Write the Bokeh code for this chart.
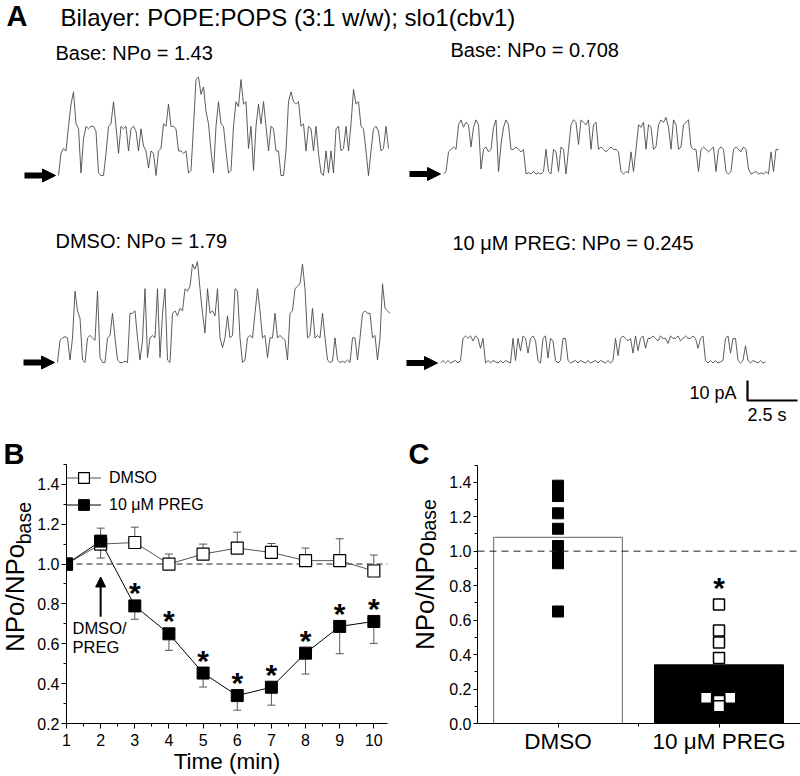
from math import pi
import numpy as np
from bokeh.plotting import figure
from bokeh.layouts import column, row
from bokeh.models import (Range1d, Label, Arrow, NormalHead, TeeHead, Whisker,
                          ColumnDataSource, FixedTicker, Span, Legend, LegendItem,
                          NumeralTickFormatter)
from bokeh.embed import file_html
from bokeh.resources import INLINE
from bokeh.core.properties import value

FONT = "Liberation Sans"

# ---------------- data: panel A (single-channel records, open-channel level per sample) ----------------
unit_current_pA = 12.3
sample_dt_s = 0.125
scale_bar_pA = 10
scale_bar_s = 2.5
figure_title = "Bilayer: POPE:POPS (3:1 w/w); slo1(cbv1)"
trace_titles = ["Base: NPo = 1.43", "Base: NPo = 0.708",
                "DMSO: NPo = 1.79", "10 \u03bcM PREG: NPo = 0.245"]

base1_levels = [
    0, 0.9, 1.1, 1.0, 2.0, 2.9, 3.4, 2.1, 1.9, 0.1,
    1.5, 2.0, 1.9, 2.0, 2.0, 1.8, 0.1, 0.0, 0.0, 0.9,
    2.0, 2.1, 3.0, 2.0, 0.9, 2.0, 1.9, 2.0, 1.0, 1.9,
    2.0, 1.8, 1.0, 1.9, 1.2, 1.0, 0.3, 1.0, 0.9, 0.0,
    1.0, 1.1, 2.1, 2.0, 2.9, 2.0, 2.0, 1.9, 1.0, 1.0,
    0.9, 1.0, 0.1, 0.2, 2.0, 3.9, 4.0, 3.3, 3.6, 2.6,
    2.1, 1.0, 0.1, 2.0, 3.0, 2.1, 2.0, 1.0, 0.1, 0.2,
    2.0, 3.0, 2.8, 3.9, 2.9, 3.0, 1.1, 2.0, 0.2, 2.0,
    2.9, 2.1, 3.0, 2.0, 1.0, 2.0, 1.9, 1.0, 1.0, 0.0,
    0.0, 1.0, 3.0, 3.4, 3.0, 2.9, 3.0, 2.0, 2.1, 1.0,
    2.0, 1.9, 1.0, 2.0, 0.9, 0.1, 0.0, 1.0, 0.1, 1.0,
    0.1, 1.9, 2.0, 1.0, 1.1, 2.0, 1.0, 2.1, 3.5, 2.9,
    3.0, 2.0, 1.9, 1.0, 0.0, 1.0, 1.9, 2.0, 1.8, 1.0,
    1.1, 2.0, 1.1]

base2_levels = [
    0.0, 0.1, 0.9, 1.0, 1.1, 1.0, 2.0, 2.2, 1.9, 2.1,
    2.0, 1.1, 1.9, 2.2, 2.0, 0.2, 1.0, 1.1, 0.9, 1.0,
    1.9, 2.2, 0.1, 1.2, 1.9, 2.2, 2.0, 1.0, 1.0, 1.1,
    1.0, 0.9, 1.0, 0.0, 0.05, 0.0, 0.1, 0.0, 0.05, 0.0,
    0.1, 1.0, 0.1, 0.0, 1.0, 0.9, 0.1, 1.1, 1.0, 0.0,
    1.0, 2.0, 2.2, 2.1, 1.2, 2.2, 2.1, 2.0, 2.2, 1.0,
    2.0, 2.1, 1.0, 1.1, 1.0, 0.9, 1.0, 1.1, 1.0, 1.0,
    0.9, 0.1, 0.0, 0.1, 0.05, 0.9, 0.1, 1.0, 2.0, 1.9,
    2.1, 1.0, 2.0, 1.9, 1.0, 1.1, 2.0, 2.2, 2.1, 2.3,
    1.9, 1.0, 2.2, 2.0, 1.0, 1.1, 2.0, 2.1, 2.2, 1.1,
    1.0, 1.0, 0.1, 1.0, 1.1, 1.0, 0.9, 1.0, 1.1, 0.1,
    1.0, 1.1, 1.0, 0.1, 0.0, 0.1, 1.0, 1.1, 1.0, 0.9,
    1.1, 1.0, 0.2, 0.0, 0.05, 0.1, 0.0, 0.05, 0.0, 0.1,
    0.0, 0.9, 0.1, 1.0, 1.0]

dmso_levels = [
    0.0, 0.9, 1.0, 1.05, 1.0, 0.1, 1.0, 2.9, 2.1, 1.8,
    0.1, 0.0, 1.0, 1.1, 1.0, 0.9, 2.9, 0.2, 0.0, 0.0,
    1.0, 1.1, 2.0, 1.0, 0.1, 0.0, 0.0, 0.05, 0.0, 2.0,
    2.0, 2.1, 1.0, 0.1, 0.9, 3.0, 0.2, 1.0, 1.1, 1.0,
    3.0, 0.2, 2.0, 3.0, 0.1, 0.0, 2.0, 2.1, 1.9, 2.2,
    2.1, 3.0, 2.9, 3.1, 4.0, 3.8, 4.1, 3.0, 2.0, 1.2,
    3.0, 2.0, 2.1, 1.9, 3.0, 1.0, 0.6, 1.0, 1.9, 1.0,
    1.1, 3.0, 2.9, 1.0, 0.0, 0.1, 1.0, 1.1, 1.0, 2.0,
    3.0, 2.1, 1.0, 1.1, 0.2, 1.0, 1.0, 2.0, 1.0, 1.1,
    1.0, 0.9, 0.1, 2.0, 2.1, 3.0, 3.1, 3.2, 4.0, 3.0,
    1.0, 1.1, 2.2, 1.0, 1.1, 1.0, 2.0, 1.0, 0.1, 0.0,
    0.05, 1.0, 0.1, 0.0, 0.05, 0.0, 0.1, 0.0, 1.0, 1.0,
    0.1, 1.0, 2.0, 2.1, 2.0, 2.0, 1.0, 1.1, 0.1, 1.0,
    3.2, 2.2, 2.1, 2.0]

preg_levels = [
    0.0, 0.1, 0.0, 0.1, 0.0, 0.05, 0.1, 0.0, 0.1, 1.0,
    1.1, 1.0, 1.1, 0.9, 1.1, 1.0, 0.6, 1.0, 0.0, 0.1,
    0.0, 0.1, 0.05, 0.0, 0.1, 0.0, 0.1, 0.05, 0.0, 1.0,
    0.1, 1.0, 0.5, 1.1, 1.0, 0.4, 1.0, 1.1, 0.9, 0.1,
    0.0, 1.0, 1.1, 0.2, 1.0, 0.9, 0.1, 0.0, 0.1, 1.0,
    1.0, 0.1, 0.0, 0.05, 0.1, 0.0, 0.1, 0.05, 0.0, 0.1,
    0.0, 0.05, 0.1, 0.0, 0.1, 0.05, 0.0, 0.1, 0.0, 0.1,
    1.0, 0.3, 1.0, 1.1, 1.0, 0.9, 1.0, 0.4, 1.1, 0.5,
    1.0, 1.1, 0.6, 1.0, 1.0, 1.1, 1.0, 0.9, 1.1, 1.0,
    1.0, 0.8, 1.1, 1.0, 1.0, 1.1, 0.9, 1.0, 1.1, 1.0,
    1.0, 1.1, 1.0, 0.6, 1.0, 1.1, 0.1, 0.0, 0.1, 0.0,
    0.1, 0.0, 0.05, 0.1, 1.0, 1.1, 0.4, 1.0, 1.0, 0.1,
    0.0, 0.1, 0.7, 0.1, 0.0, 0.1, 0.05, 0.0, 0.1, 0.0,
    0.05]

# ---------------- data: panel B (time course) ----------------
time_min = [1, 2, 3, 4, 5, 6, 7, 8, 9, 10]
dmso_mean = [1.00, 1.10, 1.108, 1.00, 1.05, 1.08, 1.058, 1.017, 1.017, 0.965]
dmso_sem = [0.0, 0.08, 0.077, 0.05, 0.05, 0.08, 0.045, 0.063, 0.11, 0.08]
preg_mean = [1.00, 1.115, 0.79, 0.65, 0.453, 0.34, 0.382, 0.553, 0.687, 0.712]
preg_sem = [0.0, 0.085, 0.067, 0.083, 0.07, 0.073, 0.09, 0.105, 0.137, 0.11]
preg_significant = [False, False, True, True, True, True, True, True, True, True]
series_labels = ["DMSO", "10 \u03bcM PREG"]

# ---------------- data: panel C (summary) ----------------
group_x = [1, 2]
group_labels = ["DMSO", "10 \u03bcM PREG"]
group_means = [1.08, 0.34]
dmso_points = [1.38, 1.35, 1.32, 1.22, 1.13, 1.03, 0.98, 0.93, 0.65]
preg_points = [0.69, 0.54, 0.47, 0.38, 0.15, 0.15, 0.13, 0.10]
preg_points_x = [2.0, 2.0, 2.0, 2.0, 1.92, 2.07, 2.0, 2.0]

# ================= layout geometry (page pixels; the page has no margin) =================
PX_PER_S = 20.0
PX_PER_PA = 2.0
A_W, A_H = 800, 425                 # panel A: page y 0..425
ROW_Y0, ROW_H = 425, 351            # bottom row: page y 425..776
ROW_BOTTOM = 52                     # common bottom border of the row -> frames end at y 724
FRAME_Y1 = ROW_Y0 + ROW_H - ROW_BOTTOM
SB_W, B_W, SC_W, C_W = 34, 366, 40, 360


def ax(xi):
    return xi / PX_PER_S


def ay(yi):
    return (A_H - yi) / PX_PER_PA


def lab(p, x, y, text, size, bold=False, align="left", angle=0.0):
    p.add_layout(Label(x=x, y=y, text=text, text_font=FONT, text_font_size=f"{size}px",
                       text_font_style="bold" if bold else "normal", text_color="black",
                       text_align=align, text_baseline="middle", angle=angle))


def bare(w, h, xr, yr, bottom=0):
    p = figure(width=w, height=h, x_range=xr, y_range=yr, x_axis_location=None,
               y_axis_location=None, title_location=None, min_border=0,
               min_border_bottom=bottom, output_backend="svg", toolbar_location=None)
    p.grid.visible = False
    p.outline_line_color = None
    return p


# ---------------- Panel A ----------------
pA = bare(A_W, A_H, Range1d(0, A_W / PX_PER_S), Range1d(0, A_H / PX_PER_PA))

traces = [base1_levels, base2_levels, dmso_levels, preg_levels]
trace_origin_px = [(58, 175), (443, 173.5), (57, 362), (440, 362.5)]
title_px = [(55, 52.5), (450, 49.2), (55, 240.8), (452, 242.5)]

for levels, (x0, y0), title, (tx, ty) in zip(traces, trace_origin_px, trace_titles, title_px):
    lv = np.array(levels, dtype=float)
    t = ax(x0) + np.arange(len(lv)) * sample_dt_s
    cur = ay(y0) + lv * unit_current_pA
    pA.line(t, cur, line_color="#4a4a4a", line_width=0.9)
    pA.add_layout(Arrow(end=NormalHead(size=13, fill_color="black", line_color="black"),
                        x_start=ax(x0 - 34), y_start=ay(y0), x_end=ax(x0 - 3), y_end=ay(y0),
                        line_color="black", line_width=6))
    lab(pA, ax(tx), ay(ty), title, 20)

lab(pA, ax(6), ay(15.5), "A", 29, bold=True)
lab(pA, ax(60), ay(16.5), figure_title, 24)

# scale bar
sb_x, sb_y = ax(747), ay(400)
pA.line([sb_x, sb_x, sb_x + scale_bar_s], [sb_y + scale_bar_pA, sb_y, sb_y],
        line_color="black", line_width=2.2)
lab(pA, ax(736), ay(392), f"{scale_bar_pA} pA", 18, align="right")
lab(pA, ax(747), ay(414), f"{scale_bar_s} s", 18)


def style_axes(p, xsize, ysize, xstand, ystand, tick_out=5):
    for a, s, st in ((p.xaxis[0], xsize, xstand), (p.yaxis[0], ysize, ystand)):
        a.axis_line_color = "black"
        a.axis_line_width = 1
        a.major_tick_line_color = "black"
        a.minor_tick_line_color = "black"
        a.major_tick_in = 0
        a.major_tick_out = tick_out
        a.minor_tick_in = 0
        a.minor_tick_out = 3
        a.major_label_text_font = FONT
        a.major_label_text_font_size = f"{s}px"
        a.major_label_text_color = "black"
        a.major_label_standoff = st


# ---------------- strips holding the outer texts (page coordinates) ----------------
sB = bare(SB_W, ROW_H, Range1d(0, SB_W), Range1d(FRAME_Y1, ROW_Y0), bottom=ROW_BOTTOM)
lab(sB, 3, 454, "B", 29, bold=True)
lab(sB, 14, 598, "NPo/NPo", 26, align="center", angle=pi / 2)
lab(sB, 23, 523, "base", 19.5, align="center", angle=pi / 2)

sCx0 = SB_W + B_W
sC = bare(SC_W, ROW_H, Range1d(sCx0, sCx0 + SC_W), Range1d(FRAME_Y1, ROW_Y0), bottom=ROW_BOTTOM)
lab(sC, 408, 453.5, "C", 29, bold=True)
lab(sC, 424, 596, "NPo/NPo", 26, align="center", angle=pi / 2)
lab(sC, 428, 520, "base", 19.5, align="center", angle=pi / 2)

# ---------------- Panel B ----------------
B_L, B_R = 30, 13
B_XR = (1, 10.4)
B_AX_TOP = 1.5
b_sy = 200.0
B_YR = (0.2, 0.2 + (FRAME_Y1 - ROW_Y0) / b_sy)
pB = figure(width=B_W, height=ROW_H, x_range=Range1d(*B_XR), y_range=Range1d(*B_YR),
            min_border_left=B_L, min_border_right=B_R, min_border_top=0,
            min_border_bottom=ROW_BOTTOM, title_location=None, output_backend="svg",
            toolbar_location=None)
pB.grid.visible = False
pB.outline_line_color = None
style_axes(pB, 16, 16, 5, 2)
pB.yaxis.bounds = (B_YR[0], B_AX_TOP)
pB.xaxis.ticker = FixedTicker(ticks=time_min, minor_ticks=[t + 0.5 for t in time_min])
pB.yaxis.ticker = FixedTicker(ticks=[0.2, 0.4, 0.6, 0.8, 1.0, 1.2, 1.4],
                              minor_ticks=[0.3, 0.5, 0.7, 0.9, 1.1, 1.3, 1.5])
pB.yaxis.formatter = NumeralTickFormatter(format="0.0")
pB.xaxis.axis_label = "Time (min)"
pB.xaxis.axis_label_text_font = FONT
pB.xaxis.axis_label_text_font_size = "22.5px"
pB.xaxis.axis_label_text_font_style = "normal"
pB.xaxis.axis_label_text_color = "black"
pB.xaxis.axis_label_standoff = 0

b_fx0 = SB_W + B_L                      # frame left (page px)
b_sx = (B_W - B_L - B_R) / (B_XR[1] - B_XR[0])


def bx(xi):
    return B_XR[0] + (xi - b_fx0) / b_sx


def by(yi):
    return B_YR[0] + (FRAME_Y1 - yi) / b_sy


pB.add_layout(Span(location=1.0, dimension="width", line_color="#222", line_width=1,
                   line_dash="6 4", level="underlay"))

src_d = ColumnDataSource(dict(x=time_min, y=dmso_mean,
                              up=[m + e for m, e in zip(dmso_mean, dmso_sem)]))
src_p = ColumnDataSource(dict(x=time_min, y=preg_mean,
                              lo=[m - e for m, e in zip(preg_mean, preg_sem)]))
pB.add_layout(Whisker(source=src_d, base="x", upper="up", lower="y", line_color="#555",
                      line_width=1, upper_head=TeeHead(size=8, line_color="#555", line_width=1),
                      lower_head=None))
pB.add_layout(Whisker(source=src_p, base="x", upper="y", lower="lo", line_color="#555",
                      line_width=1, lower_head=TeeHead(size=8, line_color="#555", line_width=1),
                      upper_head=None))
l_d = pB.line("x", "y", source=src_d, line_color="#555", line_width=1)
l_p = pB.line("x", "y", source=src_p, line_color="black", line_width=1)
s_d = pB.scatter("x", "y", source=src_d, marker="square", size=12, fill_color="white",
                 line_color="black", line_width=1.2)
s_p = pB.scatter("x", "y", source=src_p, marker="square", size=12, fill_color="black",
                 line_color="black", line_width=1)

sig_x = [t for t, s in zip(time_min, preg_significant) if s]
sig_y = [m for m, s in zip(preg_mean, preg_significant) if s]
pB.text(x=sig_x, y=sig_y, text=["*"] * len(sig_x), text_font=value(FONT),
        text_font_size="30px", text_font_style="bold", text_align="center",
        text_baseline="middle", y_offset=-13, text_color="black")

# legend: two 27-px rows, first row centred near page y 473
legend = Legend(items=[LegendItem(label=series_labels[0], renderers=[l_d, s_d]),
                       LegendItem(label=series_labels[1], renderers=[l_p, s_p])],
                location=(0, FRAME_Y1 - 519), glyph_width=35, glyph_height=27,
                label_height=27, spacing=0, padding=0, margin=0, label_standoff=8,
                label_text_font=FONT, label_text_font_size="16px", label_text_color="black",
                background_fill_alpha=0, border_line_alpha=0)
pB.add_layout(legend)

pB.add_layout(Arrow(end=NormalHead(size=10, fill_color="black", line_color="black"),
                    x_start=time_min[1], y_start=by(617), x_end=time_min[1], y_end=by(577),
                    line_color="black", line_width=2))
lab(pB, bx(70), by(628.3), "DMSO/", 16.5)
lab(pB, bx(70), by(647.7), "PREG", 16.5)

# ---------------- Panel C ----------------
C_L, C_R = 37, 0
C_PX_PER_X = 161.0
C_PX_PER_Y = 172.9
C_AX_TOP = 1.5
C_XR = (0.5, 0.5 + (C_W - C_L - C_R) / C_PX_PER_X)
C_YR = (0.0, (FRAME_Y1 - ROW_Y0) / C_PX_PER_Y)
pC = figure(width=C_W, height=ROW_H, x_range=Range1d(*C_XR), y_range=Range1d(*C_YR),
            min_border_left=C_L, min_border_right=C_R, min_border_top=0,
            min_border_bottom=ROW_BOTTOM, title_location=None, output_backend="svg",
            toolbar_location=None)
pC.grid.visible = False
pC.outline_line_color = None
style_axes(pC, 22.5, 16, 1, 2, tick_out=4)
pC.yaxis.bounds = (C_YR[0], C_AX_TOP)
pC.xaxis.ticker = FixedTicker(ticks=group_x, minor_ticks=[1.5])
pC.xaxis.major_label_overrides = {gx: gl for gx, gl in zip(group_x, group_labels)}
pC.yaxis.ticker = FixedTicker(ticks=[0.0, 0.2, 0.4, 0.6, 0.8, 1.0, 1.2, 1.4],
                              minor_ticks=[0.1, 0.3, 0.5, 0.7, 0.9, 1.1, 1.3, 1.5])
pC.yaxis.formatter = NumeralTickFormatter(format="0.0")

pC.vbar(x=group_x, top=group_means, width=0.8, fill_color=["white", "black"],
        line_color=["#808080", "black"], line_width=1.2)
pC.add_layout(Span(location=1.0, dimension="width", line_color="#222", line_width=1,
                   line_dash="7 5", level="glyph"))
pC.scatter(x=[group_x[0]] * len(dmso_points), y=dmso_points, marker="square", size=11,
           fill_color="black", line_color="black")
pC.scatter(x=preg_points_x, y=preg_points, marker="square", size=11, fill_color="white",
           line_color="black", line_width=1.5)
pC.text(x=[group_x[1]], y=[max(preg_points)], text=["*"], text_font=value(FONT),
        text_font_size="30px", text_font_style="bold", text_align="center",
        text_baseline="middle", y_offset=-17, text_color="black")

layout = column(pA, row(sB, pB, sC, pC))
open("out.html", "w").write(file_html(layout, INLINE))
